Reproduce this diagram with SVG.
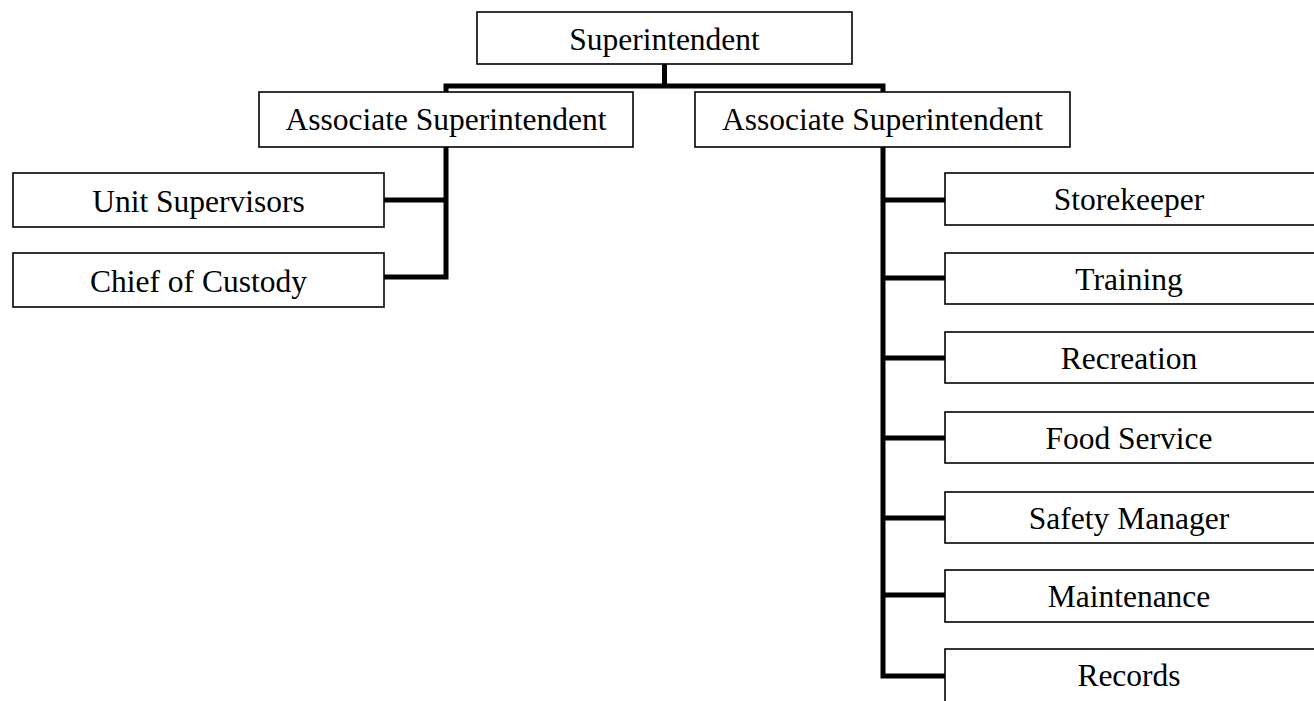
<svg xmlns="http://www.w3.org/2000/svg" width="1314" height="701" viewBox="0 0 1314 701">
<style>
.box{fill:#fff;stroke:#000;stroke-width:1.6}
.lbl{font-family:"Liberation Serif","Times New Roman",serif;font-size:31.5px;fill:#000;text-anchor:middle}
.con{fill:none;stroke:#000;stroke-width:5;stroke-linejoin:miter;stroke-linecap:butt}
</style>
<rect width="1314" height="701" fill="#fff"/>
<g id="connectors">
<path class="con" d="M664.5,64 V86"/>
<path class="con" d="M384,277 H446 V86 H883 V676 H945"/>
<path class="con" d="M384,200 H446"/>
<path class="con" d="M883,200 H945"/>
<path class="con" d="M883,278 H945"/>
<path class="con" d="M883,358 H945"/>
<path class="con" d="M883,438 H945"/>
<path class="con" d="M883,518 H945"/>
<path class="con" d="M883,595 H945"/>
</g>
<g id="superintendent">
<rect class="box" x="477" y="12" width="375" height="52"/>
<text class="lbl" x="664.5" y="50">Superintendent</text>
</g>
<g id="assoc-left">
<rect class="box" x="259" y="92" width="374" height="55"/>
<text class="lbl" x="446" y="130">Associate Superintendent</text>
</g>
<g id="assoc-right">
<rect class="box" x="695" y="92" width="375" height="55"/>
<text class="lbl" x="882.5" y="130">Associate Superintendent</text>
</g>
<g id="unit-supervisors">
<rect class="box" x="13" y="173" width="371" height="54"/>
<text class="lbl" x="198.5" y="212">Unit Supervisors</text>
</g>
<g id="chief-of-custody">
<rect class="box" x="13" y="253" width="371" height="54"/>
<text class="lbl" x="198.5" y="292">Chief of Custody</text>
</g>
<g id="storekeeper">
<rect class="box" x="945" y="173" width="375" height="52"/>
<text class="lbl" x="1129" y="210">Storekeeper</text>
</g>
<g id="training">
<rect class="box" x="945" y="253" width="375" height="51"/>
<text class="lbl" x="1129" y="290">Training</text>
</g>
<g id="recreation">
<rect class="box" x="945" y="332" width="375" height="51"/>
<text class="lbl" x="1129" y="369">Recreation</text>
</g>
<g id="food-service">
<rect class="box" x="945" y="412" width="375" height="51"/>
<text class="lbl" x="1129" y="449">Food Service</text>
</g>
<g id="safety-manager">
<rect class="box" x="945" y="492" width="375" height="51"/>
<text class="lbl" x="1129" y="529">Safety Manager</text>
</g>
<g id="maintenance">
<rect class="box" x="945" y="570" width="375" height="52"/>
<text class="lbl" x="1129" y="607">Maintenance</text>
</g>
<g id="records">
<rect class="box" x="945" y="649" width="375" height="60"/>
<text class="lbl" x="1129" y="686">Records</text>
</g>
</svg>
